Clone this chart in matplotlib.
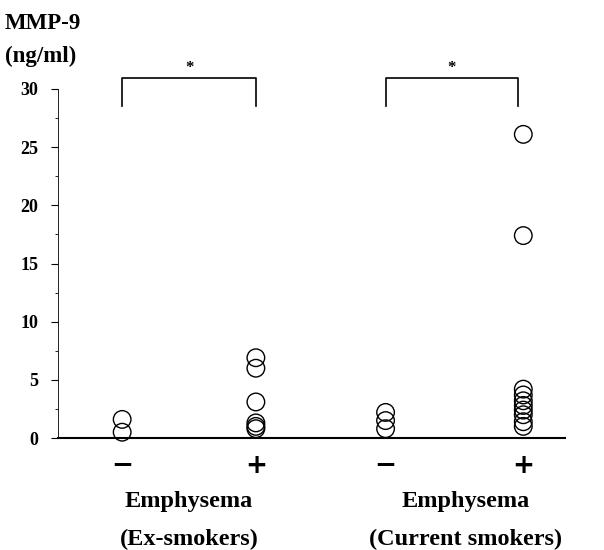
import matplotlib.pyplot as plt

plt.rcParams['font.family'] = ['Liberation Serif', 'DejaVu Serif']
plt.rcParams['font.weight'] = 'bold'

# MMP-9 (ng/ml) per group
ex_neg = [1.6, 0.5]
ex_pos = [6.9, 6.0, 3.1, 1.3, 1.0, 0.8]
cur_neg = [2.2, 1.5, 0.8]
cur_pos = [26.1, 17.4, 4.2, 3.7, 3.2, 2.8, 2.4, 2.0, 1.4, 1.0]
groups = [ex_neg, ex_pos, cur_neg, cur_pos]
positions = [0, 1, 1.97, 3.0]
signs = ['\u2212', '+', '\u2212', '+']
yticks = [0, 5, 10, 15, 20, 25, 30]

fig = plt.figure(figsize=(6.04, 5.50), dpi=100)
ax = fig.add_axes([0.096, 0.2036, 0.839, 0.6346])

for x, vals in zip(positions, groups):
    ax.scatter([x] * len(vals), vals, s=160, facecolors='none',
               edgecolors='black', linewidths=1.0, clip_on=False, zorder=3)

ax.set_xlim(-0.48, 3.31)
ax.set_ylim(0, 30)
ax.set_yticks(yticks)
ax.set_yticks([t + 2.5 for t in yticks[:-1]], minor=True)
ax.set_yticklabels([str(t) for t in yticks], fontsize=13, fontweight='bold')
ax.set_xticks([])
ax.tick_params(axis='y', which='major', direction='out', length=5,
               width=0.8, pad=9)
ax.tick_params(axis='y', which='minor', direction='out', length=2, width=0.6)
for s in ['top', 'right']:
    ax.spines[s].set_visible(False)
ax.spines['left'].set_linewidth(0.6)
ax.spines['bottom'].set_linewidth(1.5)

# significance brackets
for x0, x1 in [(positions[0], positions[1]), (positions[2], positions[3] - 0.04)]:
    ax.plot([x0, x0, x1, x1], [28.5, 30.95, 30.95, 28.5], color='black',
            lw=1.2, clip_on=False)
    ax.text((x0 + x1) / 2, 31.1, '*', ha='center', va='bottom',
            fontsize=12, fontweight='bold')

# group signs and labels
for x, sgn in zip(positions, signs):
    ax.text(x, -1.25, sgn, ha='center', va='top', fontsize=19,
            fontweight='bold', family='DejaVu Sans')
for x, sub in [(0.5, '(Ex-smokers)'), (2.57, '(Current smokers)')]:
    ax.text(x, -4.55, 'Emphysema', ha='center', va='top', fontsize=17.5,
            fontweight='bold')
    ax.text(x, -7.8, sub, ha='center', va='top', fontsize=17.5,
            fontweight='bold')

fig.text(0.008, 0.958, 'MMP-9', ha='left', va='center', fontsize=16.5,
         fontweight='bold')
fig.text(0.008, 0.898, '(ng/ml)', ha='left', va='center', fontsize=16.5,
         fontweight='bold')

fig.savefig('out.png', dpi=100)
